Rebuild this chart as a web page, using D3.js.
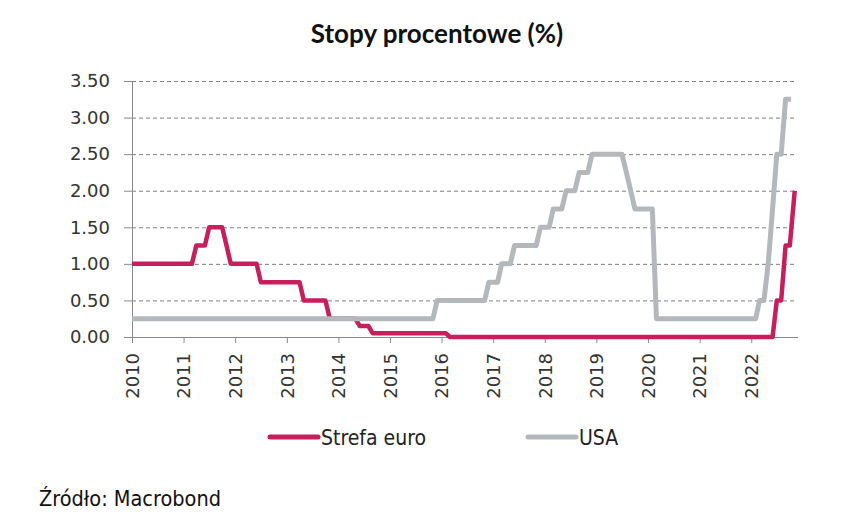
<!DOCTYPE html>
<html>
<head>
<meta charset="utf-8">
<script src="https://cdn.jsdelivr.net/npm/d3@7"></script>
<style>
  body { margin: 0; background: #fff; }
  svg { display: block; }
</style>
</head>
<body>
<svg id="chart"></svg>
<script>
// data (change points, monthly)
var euroDates = ["2010-01-01", "2011-03-01", "2011-04-01", "2011-06-01", "2011-07-01",
  "2011-10-01", "2011-11-01", "2011-12-01", "2012-06-01", "2012-07-01",
  "2013-04-01", "2013-05-01", "2013-10-01", "2013-11-01", "2014-05-01",
  "2014-06-01", "2014-08-01", "2014-09-01", "2016-02-01", "2016-03-01",
  "2022-06-01", "2022-07-01", "2022-08-01", "2022-09-01", "2022-10-01", "2022-11-05"];
var euroValues = [1.00, 1.00, 1.25, 1.25, 1.50,
  1.50, 1.25, 1.00, 1.00, 0.75,
  0.75, 0.50, 0.50, 0.25, 0.25,
  0.15, 0.15, 0.05, 0.05, 0.00,
  0.00, 0.50, 0.50, 1.25, 1.25, 2.00];

var usaDates = ["2010-01-01", "2015-11-01", "2015-12-01", "2016-11-01", "2016-12-01",
  "2017-02-01", "2017-03-01", "2017-05-01", "2017-06-01", "2017-11-01",
  "2017-12-01", "2018-02-01", "2018-03-01", "2018-05-01", "2018-06-01",
  "2018-08-01", "2018-09-01", "2018-11-01", "2018-12-01", "2019-07-01",
  "2019-08-01", "2019-09-01", "2019-10-01", "2020-02-01", "2020-03-01",
  "2022-02-01", "2022-03-01", "2022-04-01", "2022-05-01", "2022-06-01",
  "2022-07-01", "2022-08-01", "2022-09-01", "2022-10-10"];
var usaValues = [0.25, 0.25, 0.50, 0.50, 0.75,
  0.75, 1.00, 1.00, 1.25, 1.25,
  1.50, 1.50, 1.75, 1.75, 2.00,
  2.00, 2.25, 2.25, 2.50, 2.50,
  2.25, 2.00, 1.75, 1.75, 0.25,
  0.25, 0.50, 0.50, 1.00, 1.75,
  2.50, 2.50, 3.25, 3.25];

var yearLabels = ["2010", "2011", "2012", "2013", "2014", "2015", "2016",
  "2017", "2018", "2019", "2020", "2021", "2022"];
var yTicks = [0, 0.5, 1, 1.5, 2, 2.5, 3, 3.5];

var seriesNames = ["Strefa euro", "USA"];
var seriesColors = ["#c61f5b", "#b3b8bc"];

var svgWidth = 844, svgHeight = 517;
var plotLeft = 132, plotRight = 798, plotTop = 81, plotBottom = 337;

var svg = d3.select('#chart').attr('width', svgWidth).attr('height', svgHeight);
var parse = d3.timeParse("%Y-%m-%d");

var xScale = d3.scaleTime()
    .domain([parse("2010-01-01"), parse("2022-11-28")])
    .range([plotLeft, plotRight]);
var yScale = d3.scaleLinear().domain([0, 3.5]).range([plotBottom, plotTop]);

// title
svg.append("text")
    .attr("x", 437).attr("y", 43)
    .attr("text-anchor", "middle")
    .attr("font-family", "Lato, 'Open Sans', sans-serif")
    .attr("font-weight", "bold")
    .attr("font-size", 26)
    .attr("fill", "#111")
    .text("Stopy procentowe (%)");

// grid lines
svg.append("g")
    .selectAll("line")
    .data(yTicks.filter(function (d) { return d > 0; }))
    .enter()
    .append("line")
    .attr("x1", plotLeft).attr("x2", 795)
    .attr("y1", function (d) { return yScale(d) + 0.5; })
    .attr("y2", function (d) { return yScale(d) + 0.5; })
    .attr("stroke", "#7f7f7f")
    .attr("stroke-width", 1)
    .attr("stroke-dasharray", "4,3");

// y axis
var y_axis = d3.axisLeft(yScale)
    .tickValues(yTicks)
    .tickSize(8)
    .tickSizeOuter(0)
    .tickPadding(14)
    .tickFormat(d3.format(".2f"));
var gy = svg.append("g")
    .attr("transform", "translate(" + plotLeft + ",0)")
    .call(y_axis);
gy.select(".domain").attr("stroke", "#8a8a8a");
gy.selectAll(".tick line").attr("stroke", "#8a8a8a");
gy.selectAll("text")
    .attr("font-family", "'DejaVu Sans', Verdana, sans-serif")
    .attr("font-size", 18)
    .attr("fill", "#333");

// x axis
var yearDates = yearLabels.map(function (d) { return parse(d + "-01-01"); });
var x_axis = d3.axisBottom(xScale)
    .tickValues(yearDates)
    .tickSize(6)
    .tickSizeOuter(0)
    .tickFormat(d3.timeFormat("%Y"));
var gx = svg.append("g")
    .attr("transform", "translate(0," + plotBottom + ")")
    .call(x_axis);
gx.select(".domain").attr("stroke", "#8a8a8a").attr("d", "M" + (plotLeft - 8) + ",0.5H" + plotRight);
gx.selectAll(".tick line").attr("stroke", "#8a8a8a");
gx.selectAll("text")
    .attr("font-family", "'DejaVu Sans', Verdana, sans-serif")
    .attr("font-size", 18)
    .attr("fill", "#333")
    .attr("text-anchor", "end")
    .attr("transform", "rotate(-90)")
    .attr("x", -16)
    .attr("y", 0)
    .attr("dy", "0.35em");

// lines
var line = d3.line()
    .x(function (d) { return xScale(d.date); })
    .y(function (d) { return yScale(d.value); });

function toSeries(dates, values) {
  return dates.map(function (d, i) { return { date: parse(d), value: values[i] }; });
}

svg.append("path")
    .datum(toSeries(euroDates, euroValues))
    .attr("d", line)
    .attr("fill", "none")
    .attr("stroke", seriesColors[0])
    .attr("stroke-width", 4.5)
    .attr("stroke-linejoin", "round");

svg.append("path")
    .datum(toSeries(usaDates, usaValues))
    .attr("d", line)
    .attr("fill", "none")
    .attr("stroke", seriesColors[1])
    .attr("stroke-width", 5)
    .attr("stroke-linejoin", "round");

// legend
var legendX = [270, 528];
var legend = svg.selectAll(".legend")
    .data(seriesNames)
    .enter()
    .append("g")
    .attr("class", "legend")
    .attr("transform", function (d, i) { return "translate(" + legendX[i] + ",437)"; });
legend.append("line")
    .attr("x1", 0).attr("x2", 48)
    .attr("stroke", function (d, i) { return seriesColors[i]; })
    .attr("stroke-width", 5)
    .attr("stroke-linecap", "round");
legend.append("text")
    .attr("x", 51).attr("y", 8)
    .attr("font-family", "'DejaVu Sans Condensed', 'Liberation Sans Narrow', sans-serif")
    .attr("font-size", 21)
    .attr("fill", "#222")
    .text(function (d) { return d; });

// source
svg.append("text")
    .attr("x", 39).attr("y", 506)
    .attr("font-family", "'DejaVu Sans Condensed', 'Liberation Sans Narrow', sans-serif")
    .attr("font-size", 21.5)
    .attr("fill", "#111")
    .text("Źródło: Macrobond");
</script>
</body>
</html>
